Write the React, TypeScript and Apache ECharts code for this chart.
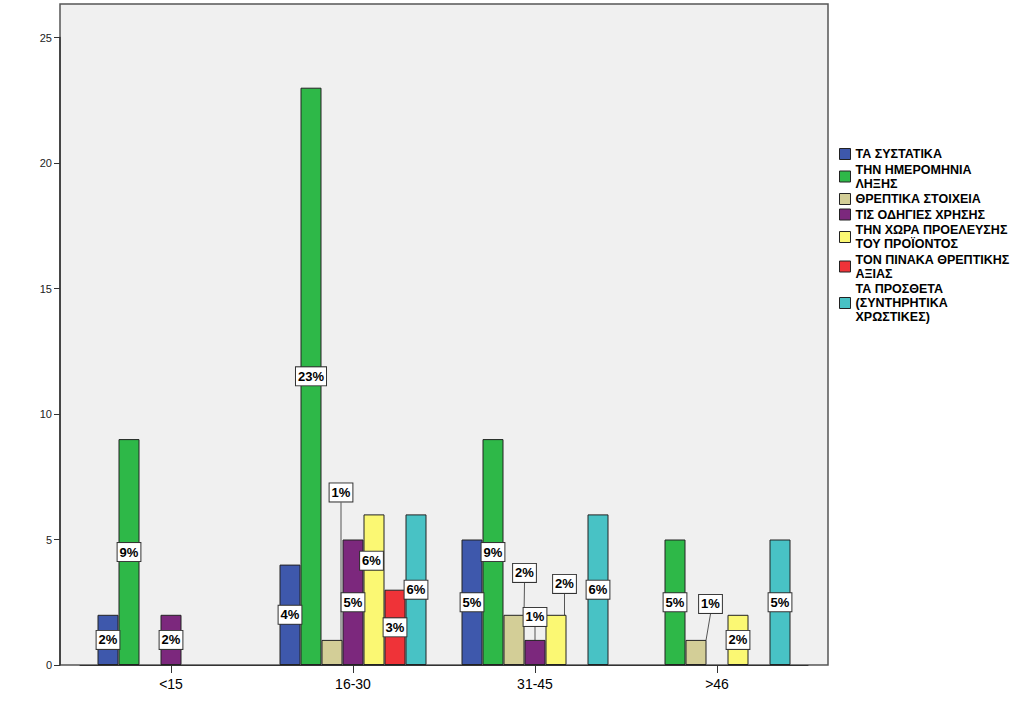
import React, { useEffect, useRef } from "react";
import * as echarts from "echarts";

const categories = ["<15", "16-30", "31-45", ">46"];
const seriesNames = [
  "ΤΑ ΣΥΣΤΑΤΙΚΑ",
  "ΤΗΝ ΗΜΕΡΟΜΗΝΙΑ\nΛΗΞΗΣ",
  "ΘΡΕΠΤΙΚΑ ΣΤΟΙΧΕΙΑ",
  "ΤΙΣ ΟΔΗΓΙΕΣ ΧΡΗΣΗΣ",
  "ΤΗΝ ΧΩΡΑ ΠΡΟΕΛΕΥΣΗΣ\nΤΟΥ ΠΡΟΪΟΝΤΟΣ",
  "ΤΟΝ ΠΙΝΑΚΑ ΘΡΕΠΤΙΚΗΣ\nΑΞΙΑΣ",
  "ΤΑ ΠΡΟΣΘΕΤΑ\n(ΣΥΝΤΗΡΗΤΙΚΑ\nΧΡΩΣΤΙΚΕΣ)",
];
const colors = ["#3E58AC", "#2EB848", "#D3CE97", "#7C287D", "#FBF873", "#EF3338", "#48C2C5"];

const systatika = [2, 4, 5, 0];
const imerominia = [9, 23, 9, 5];
const threptika = [0, 1, 2, 1];
const odigies = [2, 5, 1, 0];
const xora = [0, 6, 2, 2];
const pinakas = [0, 3, 0, 0];
const prostheta = [0, 6, 6, 5];
const seriesValues = [systatika, imerominia, threptika, odigies, xora, pinakas, prostheta];

const yTicks = [0, 5, 10, 15, 20, 25];

// label shifts from the bar centre (series index, category index, dx, dy, leader line)
const labelMoves = [
  { s: 2, c: 1, dx: 9, dy: -160, line: true },
  { s: 2, c: 2, dx: 10.5, dy: -67, line: true },
  { s: 3, c: 2, dx: 0, dy: -35.5, line: true },
  { s: 4, c: 2, dx: 8.5, dy: -56, line: true },
  { s: 2, c: 3, dx: 14.5, dy: -48.5, line: true },
  { s: 4, c: 1, dx: -2.5, dy: -29, line: false },
];

const FONT = 'Arial, "Liberation Sans", sans-serif';

export default function App() {
  const ref = useRef<HTMLDivElement>(null);
  useEffect(() => {
    if (!ref.current) return;
    const chart = echarts.init(ref.current, null, { renderer: "svg" });
    const total = seriesValues.reduce((a, arr) => a + arr.reduce((x, y) => x + y, 0), 0);

    const series = seriesValues.map((vals, si) => ({
      name: seriesNames[si],
      type: "bar",
      barWidth: 21,
      barGap: "0%",
      itemStyle: { color: colors[si], borderColor: "#222", borderWidth: 1 },
      label: {
        show: true,
        position: "inside",
        formatter: (p: any) => Math.round((p.value / total) * 100) + "%",
        fontFamily: FONT,
        fontSize: 13,
        fontWeight: "bold",
        color: "#000",
        backgroundColor: "#fff",
        borderColor: "#333",
        borderWidth: 1,
        padding: [3, 2, 2, 2],
      },
      labelLine: { show: false, lineStyle: { color: "#555", width: 1 } },
      labelLayout: (p: any) => {
        const mv = labelMoves.find((m) => m.s === p.seriesIndex && m.c === p.dataIndex);
        if (!mv) return {};
        return { dx: mv.dx, dy: mv.dy };
      },
      data: vals.map((v, ci) => {
        if (v === 0) return null;
        const mv = labelMoves.find((m) => m.s === si && m.c === ci);
        if (!mv || !mv.line) return v;
        return {
          value: v,
          labelLine: { show: true, lineStyle: { color: "#555", width: 1 } },
        };
      }),
    }));

    chart.setOption({
      animation: false,
      grid: { left: 80, right: 215, top: 37.5, bottom: 38, containLabel: false },
      graphic: [
        {
          type: "rect",
          z: -10,
          silent: true,
          shape: { x: 60, y: 4, width: 768, height: 661 },
          style: { fill: "#F0F0F0", stroke: "#555", lineWidth: 1.5 },
        },
      ],
      legend: {
        orient: "vertical",
        left: 839,
        top: 147,
        padding: 0,
        itemWidth: 11,
        itemHeight: 11,
        itemGap: 1.5,
        icon: "rect",
        itemStyle: { borderColor: "#222", borderWidth: 1 },
        textStyle: { fontFamily: FONT, fontSize: 12.5, fontWeight: "bold", color: "#000", lineHeight: 14 },
        selectedMode: false,
        data: seriesNames,
      },
      xAxis: {
        type: "category",
        data: categories,
        axisLine: { show: true, lineStyle: { color: "#333", width: 1 } },
        axisTick: { show: true, alignWithLabel: true, length: 8, lineStyle: { color: "#333" } },
        axisLabel: { fontFamily: FONT, fontSize: 14, color: "#000", margin: 12 },
      },
      yAxis: {
        type: "value",
        min: 0,
        max: 25,
        interval: 5,
        offset: 20,
        axisLine: { show: true, lineStyle: { color: "#333", width: 1.5 } },
        axisTick: { show: true, length: 6, lineStyle: { color: "#333" }, customValues: yTicks },
        axisLabel: { fontFamily: FONT, fontSize: 11, color: "#222", margin: 8, customValues: yTicks },
        splitLine: { show: false },
      },
      series,
    });
    return () => chart.dispose();
  }, []);
  return (
    <div
      ref={ref}
      style={{ position: "fixed", left: 0, top: 0, width: 1023, height: 703, background: "#fff" }}
    />
  );
}
